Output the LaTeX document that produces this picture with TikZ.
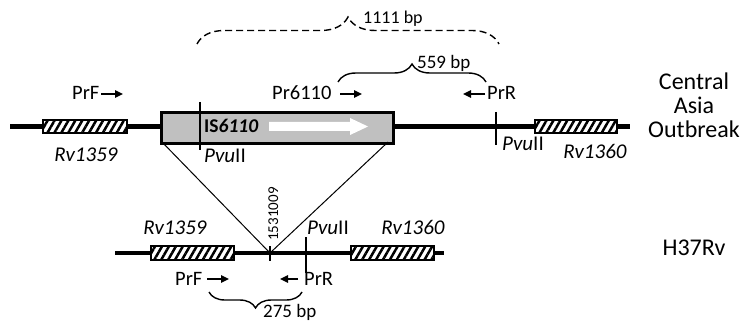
\documentclass[tikz,border=0pt]{standalone}
\usepackage{fontspec}
\setmainfont{Carlito}
\usetikzlibrary{patterns.meta,decorations.pathreplacing,arrows.meta,calc}
\definecolor{isgray}{RGB}{192,192,192}
\begin{document}
\begin{tikzpicture}[x=1pt,y=-1pt,
  lbl/.style={inner sep=0pt,anchor=base west,font=\fontsize{20.5}{22}\selectfont},
  ilbl/.style={inner sep=0pt,anchor=base,font=\fontsize{21}{22}\selectfont\itshape},
  bplbl/.style={inner sep=0pt,anchor=base west,font=\fontsize{19}{20}\selectfont},
  strain/.style={inner sep=0pt,align=center,font=\fontsize{24}{24}\selectfont},
  dna/.style={line width=5pt},
  gene/.style={draw=black,line width=2.8pt,fill=white,
    postaction={pattern={Lines[angle=60,distance=6pt,line width=2.5pt]}}},
  site/.style={line width=1.6pt},
  primer/.style={line width=1.5pt,-{Triangle[length=8pt,width=7.5pt]}},
  bracestyle/.style={line width=1.4pt,decorate},
]
\useasboundingbox (0,0) rectangle (743,323);

% ---- Central Asia Outbreak ----
\coordinate (tl) at (10,127);
\coordinate (tr) at (630,127);
\draw[dna] (tl) -- (tr);
\draw[gene] (43,120) rectangle (127,133);
\draw[gene] (535,120) rectangle (617,133);
\node[draw=black,line width=3pt,fill=isgray,minimum width=232pt,minimum height=31pt,
      inner sep=0pt,anchor=north west] (is) at (160,111) {};
\fill[white] (269,122) -- (350,122) -- (350,118) -- (368,126.5) -- (350,135) -- (350,131) -- (269,131) -- cycle;
\node[inner sep=0pt,anchor=base west,font=\fontsize{19.5}{20}\selectfont\bfseries] (isl) at (204,133) {IS\textit{6110}};
\draw[site] (200,102) -- (200,150);
\draw[site] (496,112) -- (496,145);

\node[ilbl] (rv59t) at (86,161) {Rv1359};
\node[lbl,font=\fontsize{21}{22}\selectfont] (pvu1) at (204,162) {\textit{Pvu}II};
\node[lbl,font=\fontsize{21}{22}\selectfont] (pvu2) at (502,151) {\textit{Pvu}II};
\node[ilbl] (rv60t) at (595,158) {Rv1360};

\node[lbl] (prft) at (72,100) {PrF};
\draw[primer] (101,94) -- (123,94);
\node[lbl] (pr6110) at (272,100) {Pr6110};
\draw[primer] (340,94) -- (362,94);
\node[lbl] (prrt) at (487,100) {PrR};
\draw[primer] (485,94) -- (463,94);

\node[strain] (cao) at (694,105) {Central\\Asia\\Outbreak};

% braces
\coordinate (b559a) at (338,82);
\coordinate (b559b) at (486,82);
\draw[bracestyle,decoration={brace,amplitude=18pt}] (b559a) -- (b559b);
\node[bplbl] (l559) at (417,69) {559 bp};
\coordinate (b1111a) at (197,44);
\coordinate (b1111b) at (499,44);
\draw[bracestyle,dashed,dash pattern=on 7pt off 4pt,decoration={brace,amplitude=27pt}] (b1111a) -- (b1111b);
\node[bplbl,font=\fontsize{18}{20}\selectfont] (l1111) at (363,24) {1111 bp};

% ---- insertion triangle ----
\coordinate (ins) at (270,253);
\draw[line width=1pt] (162,142) -- (ins) -- (388,142);

% ---- H37Rv ----
\coordinate (bl) at (115,253);
\coordinate (br) at (444,253);
\draw[line width=4.5pt] (bl) -- (br);
\draw[gene] (151,246) rectangle (234,260);
\draw[gene] (351,246) rectangle (434,260);
\draw[site] (270,246) -- (270,261);
\draw[site] (306,237) -- (306,273);
\node[inner sep=0pt,rotate=90,anchor=base,font=\fontsize{15}{16}\selectfont] (pos) at (278,214) {1531009};

\node[ilbl] (rv59b) at (175,234) {Rv1359};
\node[lbl,font=\fontsize{21}{22}\selectfont] (pvu3) at (307,234) {\textit{Pvu}II};
\node[ilbl] (rv60b) at (413,234) {Rv1360};

\node[lbl] (prfb) at (175,285) {PrF};
\draw[primer] (207,279) -- (229,279);
\node[lbl] (prrb) at (304,285) {PrR};
\draw[primer] (298,279) -- (280,279);

\coordinate (b275a) at (302,292);
\coordinate (b275b) at (209,292);
\draw[bracestyle,decoration={brace,amplitude=16pt}] (b275a) -- (b275b);
\node[bplbl] (l275) at (263,317) {275 bp};

\node[strain] (h37) at (694,248) {H37Rv};
\end{tikzpicture}
\end{document}
